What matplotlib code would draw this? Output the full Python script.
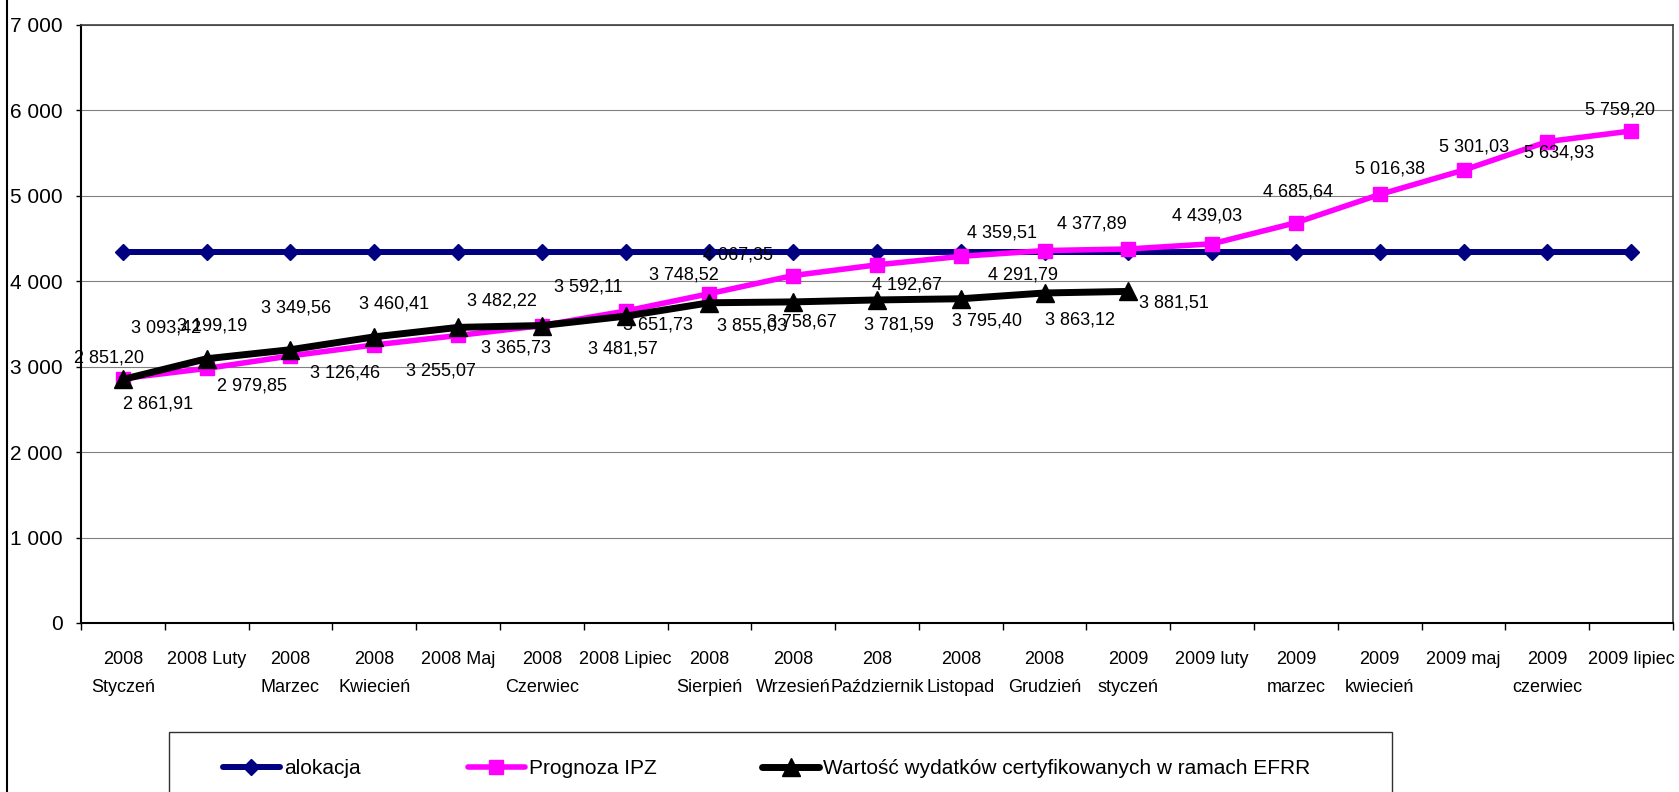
import numpy as np
import matplotlib
matplotlib.use("Agg")
import matplotlib.pyplot as plt
from matplotlib.lines import Line2D
from matplotlib.patches import Rectangle
from matplotlib.ticker import FuncFormatter, FixedLocator, NullFormatter

# ---------------- data ----------------
categories = [
    "2008\nStyczeń", "2008 Luty", "2008\nMarzec", "2008\nKwiecień", "2008 Maj",
    "2008\nCzerwiec", "2008 Lipiec", "2008\nSierpień", "2008\nWrzesień",
    "208\nPaździernik", "2008\nListopad", "2008\nGrudzień", "2009\nstyczeń",
    "2009 luty", "2009\nmarzec", "2009\nkwiecień", "2009 maj", "2009\nczerwiec",
    "2009 lipiec",
]
alokacja = [4339, 4339, 4339, 4339, 4339, 4339, 4339, 4339, 4339, 4339,
            4339, 4339, 4339, 4339, 4339, 4339, 4339, 4339, 4339]
prognoza = [2861.91, 2979.85, 3126.46, 3255.07, 3365.73, 3481.57, 3651.73,
            3855.03, 4067.35, 4192.67, 4291.79, 4359.51, 4377.89, 4439.03,
            4685.64, 5016.38, 5301.03, 5634.93, 5759.20]
wartosc = [2851.20, 3093.42, 3199.19, 3349.56, 3460.41, 3482.22, 3592.11,
           3748.52, 3758.67, 3781.59, 3795.40, 3863.12, 3881.51]
y_ticks = [0, 1000, 2000, 3000, 4000, 5000, 6000, 7000]
series_names = ["alokacja", "Prognoza IPZ",
                "Wartość wydatków certyfikowanych w ramach EFRR"]

# label offsets (pixels, image convention: +y = down) for label centres
prognoza_label_off = [(35, 23), (45, 16), (55, 15), (67, 24), (58, 11), (81, 21),
                      (32, 12), (43, 30), (-55, -23), (30, 18), (62, 17),
                      (-43, -20), (-36, -27), (-5, -30), (2, -33), (10, -27),
                      (11, -25), (12, 9), (-11, -23)]
wartosc_label_off = [(-14, -23), (-41, -33), (-78, -26), (-78, -31), (-64, -25),
                     (-40, -27), (-37, -31), (-26, -30), (9, 18), (22, 23),
                     (26, 20), (35, 25), (46, 10)]

# ---------------- style ----------------
plt.rcParams['font.family'] = ['Liberation Sans', 'DejaVu Sans']
W, H = 1679, 792
NAVY, PINK, BLACK = '#000080', '#FF00FF', '#000000'


def fmt_num(v):
    return f"{v:,.2f}".replace(",", " ").replace(".", ",")


fig = plt.figure(figsize=(W / 100, H / 100), dpi=100)
ax = fig.add_axes([81 / W, 1 - 623 / H, (1673 - 81) / W, (623 - 25) / H])

x = np.arange(len(categories))
style_a = dict(color=NAVY, lw=4.3, marker='D', ms=8.5)
style_p = dict(color=PINK, lw=4.0, marker='s', ms=10.5)
style_w = dict(color=BLACK, lw=5.0, marker='^', ms=12.5)

ax.plot(x, alokacja, zorder=3, **style_a)
ax.plot(x, prognoza, zorder=4, **style_p)
ax.plot(x[:len(wartosc)], wartosc, zorder=6, **style_w)

CAP_HALF = 6.5
for i, v in enumerate(prognoza):
    dx, dy = prognoza_label_off[i]
    ax.annotate(fmt_num(v), xy=(x[i], v), xytext=(dx, -(dy + CAP_HALF)),
                textcoords='offset pixels', ha='center', va='baseline',
                fontsize=13, color='black', zorder=5)
for i, v in enumerate(wartosc):
    dx, dy = wartosc_label_off[i]
    ax.annotate(fmt_num(v), xy=(x[i], v), xytext=(dx, -(dy + CAP_HALF)),
                textcoords='offset pixels', ha='center', va='baseline',
                fontsize=13, color='black', zorder=7)

ax.set_xlim(-0.5, len(categories) - 0.5)
ax.set_ylim(0, 7000)
ax.set_yticks(y_ticks)
ax.yaxis.set_major_formatter(FuncFormatter(lambda v, p: f"{int(v):,}".replace(",", " ")))
ax.yaxis.grid(True, color='#808080', lw=0.8)
ax.set_axisbelow(True)
ax.tick_params(axis='y', direction='out', length=3.6, width=1, labelsize=15, pad=9.4)

ax.xaxis.set_major_locator(FixedLocator(np.arange(len(categories) + 1) - 0.5))
ax.xaxis.set_major_formatter(NullFormatter())
ax.set_xticks(x, minor=True)
ax.set_xticklabels(categories, minor=True)
ax.tick_params(axis='x', which='major', direction='out', length=5, width=1)
ax.tick_params(axis='x', which='minor', length=0, pad=20, labelsize=13)
for lbl in ax.get_xticklabels(minor=True):
    lbl.set_linespacing(1.85)

for s in ['left', 'bottom']:
    ax.spines[s].set_color('black')
    ax.spines[s].set_linewidth(1.5)
for s in ['top', 'right']:
    ax.spines[s].set_color('#404040')
    ax.spines[s].set_linewidth(1.2)

# outer chart border (left side visible)
fig.add_artist(Line2D([7 / W, 7 / W], [0, 1], transform=fig.transFigure,
                      color='black', lw=1.5))

# legend frame
LEG_TOP = 732
fig.add_artist(Rectangle((169 / W, -0.1), (1392 - 169) / W, 1 - LEG_TOP / H + 0.1,
                         transform=fig.transFigure, fill=False,
                         edgecolor='#303030', lw=1.0))

handles = [Line2D([], [], solid_capstyle='round', **style_a),
           Line2D([], [], solid_capstyle='round', **style_p),
           Line2D([], [], solid_capstyle='round', **style_w)]
leg_x = [222.7, 467.5, 762.0]
for h, name, lx in zip(handles, series_names, leg_x):
    fig.legend(handles=[h], labels=[name], loc='center left',
               bbox_to_anchor=(lx / W, 1 - 769 / H), frameon=False,
               borderpad=0, borderaxespad=0, handlelength=2.75,
               handletextpad=0.2, fontsize=15)

fig.savefig('out.png', dpi=100)
